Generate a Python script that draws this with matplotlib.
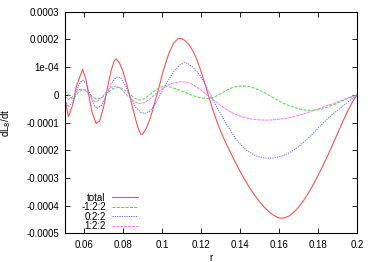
import matplotlib
matplotlib.use('Agg')
import matplotlib.pyplot as plt

# values in units of 1e-4
r_total = [0.050, 0.052, 0.0545, 0.056, 0.0593, 0.061, 0.064, 0.0662, 0.068, 0.070,
           0.072, 0.074, 0.0755, 0.0764, 0.078, 0.080, 0.082, 0.084, 0.086, 0.0875,
           0.0891, 0.090, 0.092, 0.094, 0.096, 0.098, 0.100, 0.102, 0.104, 0.106,
           0.1084, 0.110, 0.112, 0.114, 0.116, 0.118, 0.120, 0.122, 0.124, 0.126,
           0.128, 0.130, 0.1325, 0.135, 0.1375, 0.140, 0.1425, 0.145, 0.1475, 0.150,
           0.1525, 0.155, 0.1575, 0.160, 0.1625, 0.165, 0.1675, 0.170, 0.1725, 0.175,
           0.1775, 0.180, 0.1825, 0.185, 0.1875, 0.190, 0.1925, 0.195, 0.1975, 0.200]
total = [-0.07, -0.79, -0.30, 0.30, 0.92, 0.55, -0.60, -1.03, -0.95, -0.45,
         0.25, 0.90, 1.22, 1.30, 1.18, 0.85, 0.35, -0.20, -0.75, -1.15,
         -1.42, -1.43, -1.20, -0.85, -0.35, 0.15, 0.70, 1.18, 1.58, 1.87,
         2.04, 2.03, 1.95, 1.80, 1.57, 1.25, 0.85, 0.40, -0.07, -0.52,
         -0.93, -1.30, -1.70, -2.06, -2.42, -2.76, -3.07, -3.36, -3.62, -3.86,
         -4.06, -4.23, -4.36, -4.45, -4.45, -4.38, -4.25, -4.06, -3.83, -3.56,
         -3.25, -2.92, -2.56, -2.19, -1.80, -1.40, -1.00, -0.62, -0.28, 0.00]

r_m1 = [0.050, 0.052, 0.0537, 0.055, 0.057, 0.0593, 0.0615, 0.064, 0.0665, 0.069,
        0.072, 0.075, 0.0776, 0.080, 0.083, 0.086, 0.0887, 0.0915, 0.095, 0.098,
        0.101, 0.1045, 0.108, 0.1115, 0.115, 0.118, 0.121, 0.1235, 0.126, 0.1285,
        0.131, 0.1335, 0.136, 0.1385, 0.1417, 0.1445, 0.1475, 0.150, 0.1525, 0.155,
        0.1575, 0.160, 0.1625, 0.165, 0.1675, 0.170, 0.1725, 0.175, 0.1775, 0.180,
        0.1825, 0.185, 0.1875, 0.190, 0.1925, 0.195, 0.1975, 0.200]
m1 = [0.15, 0.00, -0.14, -0.10, 0.08, 0.20, 0.14, -0.05, -0.16, -0.10,
      0.08, 0.23, 0.27, 0.22, 0.05, -0.12, -0.19, -0.12, 0.08, 0.24,
      0.32, 0.28, 0.20, 0.10, 0.00, -0.08, -0.12, -0.13, -0.10, -0.02,
      0.08, 0.18, 0.26, 0.30, 0.32, 0.30, 0.24, 0.17, 0.08, -0.02,
      -0.12, -0.22, -0.31, -0.39, -0.45, -0.50, -0.54, -0.56, -0.56, -0.54,
      -0.50, -0.44, -0.37, -0.30, -0.22, -0.14, -0.07, 0.00]

r_z = [0.050, 0.052, 0.054, 0.056, 0.0575, 0.0593, 0.061, 0.063, 0.065, 0.0668,
       0.069, 0.0715, 0.074, 0.0765, 0.0776, 0.079, 0.0815, 0.084, 0.0865, 0.089,
       0.0913, 0.094, 0.097, 0.100, 0.103, 0.106, 0.109, 0.1115, 0.1135, 0.1155,
       0.1175, 0.1195, 0.122, 0.1245, 0.127, 0.130, 0.1325, 0.135, 0.1375, 0.140,
       0.1425, 0.145, 0.1475, 0.150, 0.1525, 0.155, 0.1575, 0.160, 0.1625, 0.165,
       0.1675, 0.170, 0.1725, 0.175, 0.1775, 0.180, 0.1825, 0.185, 0.1875, 0.190,
       0.1925, 0.195, 0.1975, 0.200]
z = [-0.13, -0.43, -0.28, 0.10, 0.40, 0.53, 0.42, 0.05, -0.35, -0.49,
     -0.38, 0.00, 0.42, 0.63, 0.65, 0.60, 0.30, -0.10, -0.45, -0.63,
     -0.67, -0.58, -0.28, 0.12, 0.50, 0.84, 1.07, 1.17, 1.12, 1.02,
     0.88, 0.70, 0.40, 0.05, -0.30, -0.68, -1.00, -1.28, -1.55, -1.77,
     -1.95, -2.08, -2.18, -2.24, -2.28, -2.29, -2.28, -2.24, -2.18, -2.10,
     -2.00, -1.87, -1.72, -1.56, -1.39, -1.21, -1.03, -0.86, -0.70, -0.56,
     -0.42, -0.28, -0.14, 0.00]

r_p1 = [0.050, 0.052, 0.054, 0.056, 0.058, 0.0605, 0.0625, 0.0645, 0.0656, 0.067,
        0.069, 0.0715, 0.074, 0.0759, 0.078, 0.0805, 0.083, 0.0855, 0.0875, 0.0887,
        0.091, 0.094, 0.097, 0.100, 0.103, 0.106, 0.109, 0.111, 0.113, 0.115,
        0.1175, 0.1195, 0.122, 0.1245, 0.127, 0.130, 0.1325, 0.135, 0.1375, 0.140,
        0.1425, 0.145, 0.1475, 0.150, 0.1525, 0.155, 0.1575, 0.160, 0.1625, 0.165,
        0.1675, 0.170, 0.1725, 0.175, 0.1775, 0.180, 0.1825, 0.185, 0.1875, 0.190,
        0.1925, 0.195, 0.1975, 0.200]
p1 = [-0.05, -0.16, -0.08, 0.12, 0.20, 0.18, 0.02, -0.18, -0.25, -0.23,
      -0.10, 0.12, 0.28, 0.32, 0.27, 0.10, -0.08, -0.22, -0.30, -0.31,
      -0.28, -0.14, 0.05, 0.21, 0.35, 0.43, 0.47, 0.47, 0.45, 0.40,
      0.30, 0.20, 0.06, -0.08, -0.22, -0.37, -0.50, -0.61, -0.70, -0.77,
      -0.82, -0.86, -0.89, -0.905, -0.91, -0.91, -0.90, -0.88, -0.86, -0.83,
      -0.79, -0.74, -0.69, -0.63, -0.57, -0.51, -0.45, -0.38, -0.32, -0.25,
      -0.19, -0.12, -0.06, 0.00]

xticks = [0.06, 0.08, 0.1, 0.12, 0.14, 0.16, 0.18, 0.2]
xtick_labels = ['0.06', '0.08', '0.1', '0.12', '0.14', '0.16', '0.18', '0.2']
yticks = [3, 2, 1, 0, -1, -2, -3, -4, -5]
ytick_labels = ['0.0003', '0.0002', '1e-04', '0', '-0.0001', '-0.0002',
                '-0.0003', '-0.0004', '-0.0005']


def main():
    plt.rcParams['font.family'] = ['Liberation Sans', 'DejaVu Sans']
    plt.rcParams['font.size'] = 7

    fig = plt.figure(figsize=(3.74, 2.62), dpi=100)
    ax = fig.add_axes([0.1725, 0.1095, 0.782, 0.8455])

    ax.plot(r_total, total, color='#ff5050', lw=0.8, label='total')
    ax.plot(r_m1, m1, color='#40e040', lw=0.7, ls=(0, (3, 1.5)), label='-1:2:2')
    ax.plot(r_z, z, color='#6060ff', lw=0.7, ls=(0, (1.2, 1.2)), label='0:2:2')
    ax.plot(r_p1, p1, color='#ff70ff', lw=0.7, ls=(0, (3, 1)), label='1:2:2')

    ax.set_xlim(0.05, 0.2)
    ax.set_ylim(-5, 3)
    ax.set_xticks(xticks)
    ax.set_xticklabels(xtick_labels)
    ax.set_yticks(yticks)
    ax.set_yticklabels(ytick_labels)
    ax.tick_params(direction='in', top=True, right=True, length=3.5, width=0.6, pad=4)
    ax.tick_params(axis='x', pad=5)
    for s in ax.spines.values():
        s.set_linewidth(0.8)

    ax.set_xlabel('r')
    ax.xaxis.set_label_coords(0.5, -0.09)
    ax.set_ylabel('dL$_8$/dt')
    ax.yaxis.set_label_coords(-0.175, 0.5)

    ax.legend(loc='lower left', bbox_to_anchor=(0.05, 0.0), frameon=False,
              markerfirst=False, handlelength=2.7, handletextpad=0.6,
              labelspacing=-0.05, borderpad=0.2, borderaxespad=0)

    fig.savefig('out.png', dpi=100)


if __name__ == '__main__':
    main()
